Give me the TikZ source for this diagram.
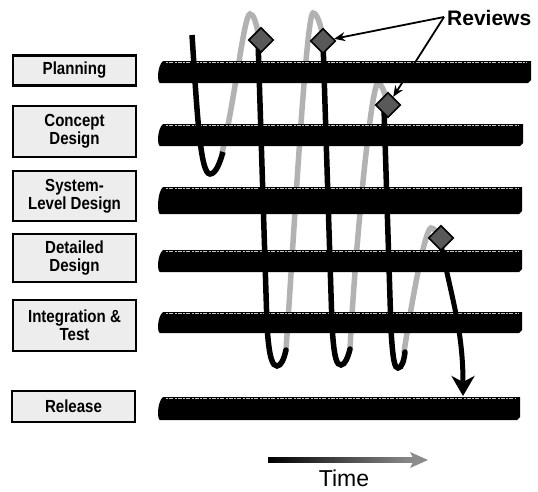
\documentclass[tikz,border=0pt]{standalone}
\usepackage{fontspec}
\setmainfont{Liberation Sans}
\newfontfamily\lblfont[FakeStretch=0.86]{Liberation Sans}
\usetikzlibrary{arrows.meta,shapes.geometric}
\newcommand\devbar[3]{%
  \fill[black] (163,#1) -- (#3,#1) -- (#3,#2-3) -- (#3-3,#2) -- (160,#2) .. controls (157,#2) and (157,#1+5) .. (163,#1) -- cycle;
  \draw[gray!45, line width=1pt, dash pattern=on 2pt off 1pt on 4pt off 1.5pt] (166,#1+1.5) -- (#3-4,#1+1.5);
}
\tikzset{
  phase/.style={draw=black, line width=2.4pt, fill=gray!14, minimum width=123pt,
    align=center, inner sep=0pt, font=\lblfont\bfseries\fontsize{17.5}{18}\selectfont},
  frontline/.style={line width=5.5pt, draw=black, line cap=round},
  backline/.style={line width=5.5pt, draw=gray!60, line cap=round},
  review/.style={diamond, draw=black, line width=1.6pt, fill=black!65, minimum size=25pt, inner sep=0pt},
  ptr/.style={line width=1.8pt, -{Stealth[length=11pt,width=9pt]}},
}
\begin{document}
\begin{tikzpicture}[x=1pt,y=-1pt]
\useasboundingbox (0,0) rectangle (538,491);
\fill[white] (0,0) rectangle (538,491);

% phase labels
\node[phase, minimum height=30pt] (plan) at (74.5,70.5) {Planning};
\node[phase, minimum height=51pt] (concept) at (74.5,131.5) {Concept\\Design};
\node[phase, minimum height=50pt] (sys) at (74.5,196) {System-\\Level Design};
\node[phase, minimum height=48pt] (det) at (74.5,258) {Detailed\\Design};
\node[phase, minimum height=51pt] (integ) at (74.5,325.5) {Integration \&\\Test};
\node[phase, minimum height=31pt] (rel) at (73.5,406.5) {Release};

% back (grey) strands of the spiral
\draw[backline] (222,153) .. controls (235,100) and (244,14) .. (250,14) .. controls (254,14) and (256,24) .. (258,32);
\draw[backline] (286,350) .. controls (293,250) and (306,14) .. (313,13) .. controls (317,13) and (320,24) .. (322,32);
\draw[backline] (350,349) .. controls (355,250) and (371,84) .. (378,83) .. controls (381,83) and (384,91) .. (386,98);
\draw[backline] (404,352) .. controls (412,300) and (425,229) .. (431,228) .. controls (434,228) and (437,232) .. (439,236);

% phase bars
\devbar{61}{83}{531}
\devbar{124}{146}{523}
\devbar{187}{214}{522}
\devbar{250}{272}{522}
\devbar{312}{333}{522}
\devbar{397}{420}{520}

% front (black) strands of the spiral
\draw[frontline, line cap=butt] (192,35) .. controls (197,110) and (200,174) .. (210,174) .. controls (216,174) and (220,162) .. (223,152);
\draw[frontline] (258,40) -- (267,325) .. controls (269,360) and (273,366) .. (277,366) .. controls (281,366) and (284,359) .. (286,350);
\draw[frontline] (323,41) -- (332,325) .. controls (334,360) and (337,365) .. (341,365) .. controls (345,365) and (348,357) .. (350,349);
\draw[frontline] (384,108) -- (391,330) .. controls (393,363) and (395,368) .. (398,368) .. controls (402,368) and (404,360) .. (405,352);
\coordinate (relend) at (463,396);
\draw[line width=5pt, -{Stealth[length=20pt,width=23pt,inset=6pt]}] (440,240) .. controls (452,300) and (463,330) .. (relend);

% reviews
\node[review] (d1) at (261,40) {};
\node[review] (d2) at (323,41) {};
\node[review] (d3) at (388,105) {};
\node[review] (d4) at (441,238) {};

\node[anchor=west, inner sep=0pt, font=\bfseries\fontsize{21}{21}\selectfont] (rv) at (447,17.5) {Reviews};
\coordinate (rj) at (444,17);
\draw[ptr] (rj) -- (d2);
\draw[ptr] (rj) -- (d3);

% time arrow
\coordinate (ta) at (268,460);
\coordinate (tb) at (428,460);
\shade[left color=black, right color=black!45] ([yshift=2.6pt]ta) rectangle ([xshift=-14pt,yshift=-2.6pt]tb);
\fill[black!45] (tb) -- ([xshift=-18pt,yshift=8pt]tb) -- ([xshift=-14pt]tb) -- ([xshift=-18pt,yshift=-8pt]tb) -- cycle;
\node[font=\fontsize{23}{23}\selectfont] (time) at (344,478) {Time};
\end{tikzpicture}
\end{document}
